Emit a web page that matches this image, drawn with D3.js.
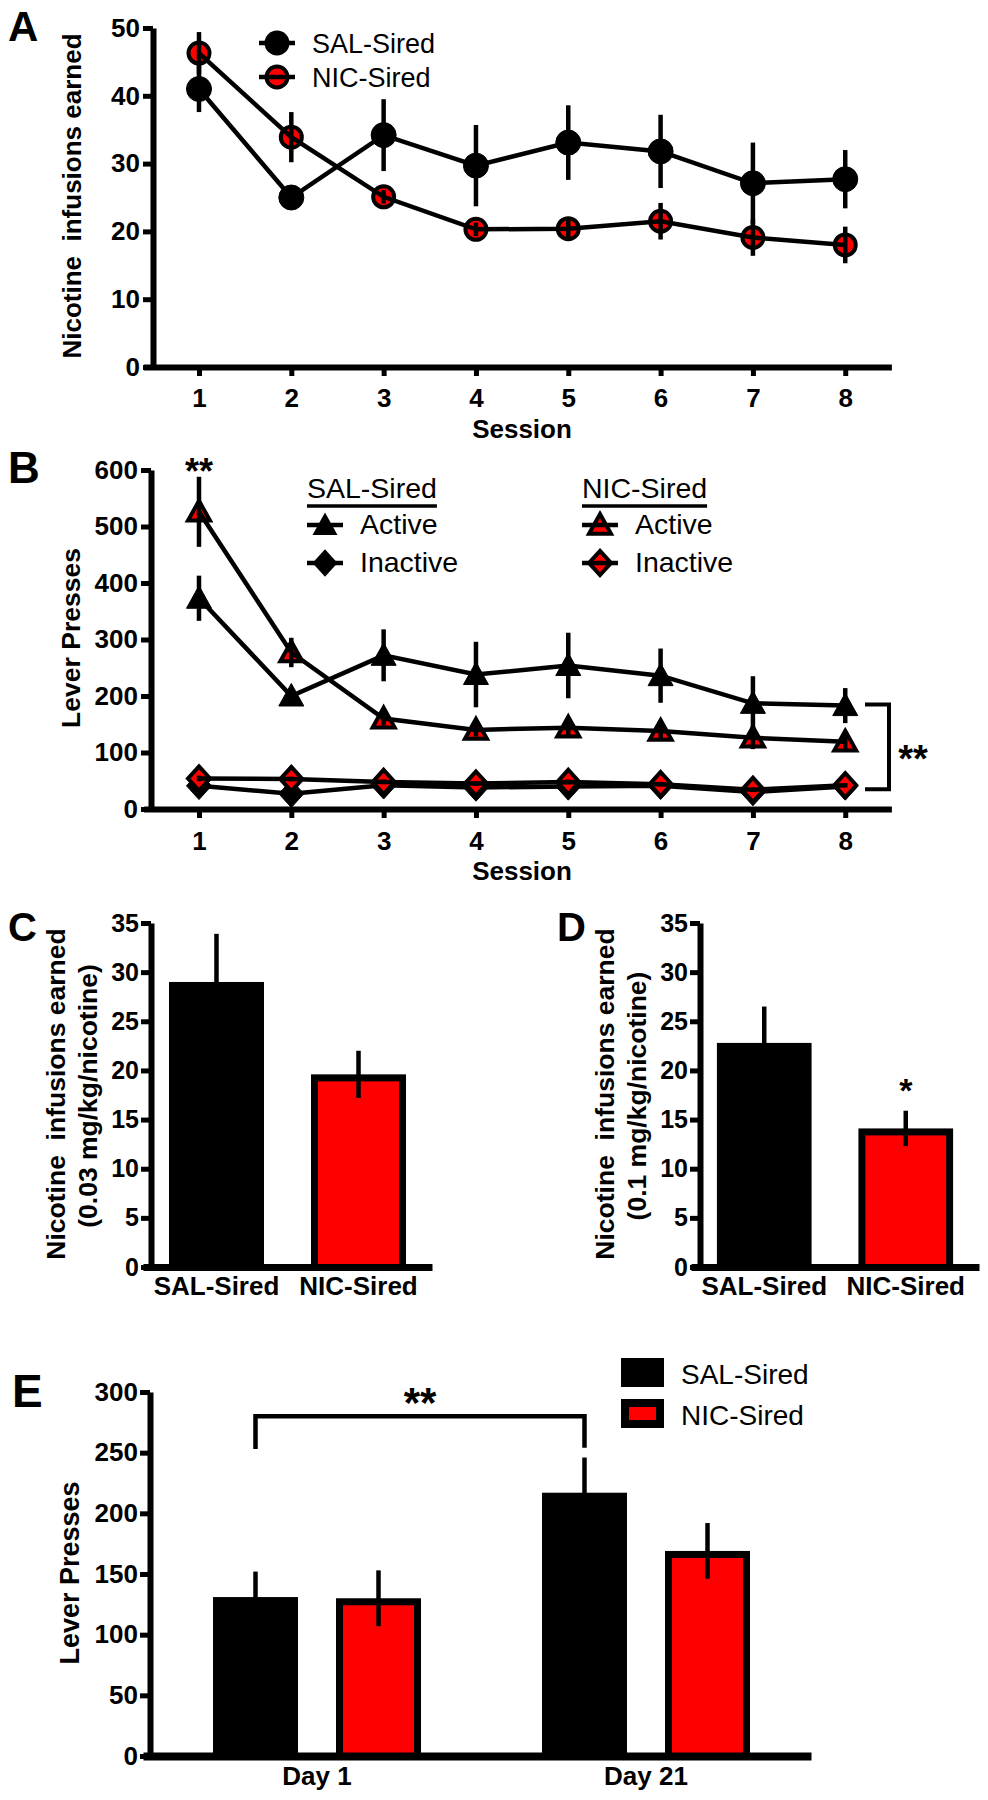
<!DOCTYPE html>
<html><head><meta charset="utf-8">
<script src="https://cdn.jsdelivr.net/npm/d3@7"></script>
<style>
body{margin:0;background:#fff;}
svg text{font-family:"Liberation Sans",Arial,sans-serif;}
</style></head><body>
<svg id="chart" width="988" height="1800"></svg>
<script>
// ---------- DATA ----------
const sessions = [1,2,3,4,5,6,7,8];
// Panel A: nicotine infusions earned
const salInfusions    = [41.0,25.0,34.2,29.7,33.1,31.8,27.1,27.7];
const salInfusionsErr = [3.4,1.2,5.3,6.0,5.5,5.4,6.0,4.3];
const nicInfusions    = [46.3,33.9,25.1,20.3,20.4,21.5,19.1,18.0];
const nicInfusionsErr = [3.1,3.7,1.0,1.0,1.5,2.7,2.7,2.7];
// Panel B: lever presses
const salActive      = [373,200,272,238,254,236,187,183];
const salActiveErr   = [40,12,46,58,58,48,48,31];
const nicActive      = [526,277,160,140,144,138,126,119];
const nicActiveErr   = [62,26,12,12,15,14,20,14];
const salInactive    = [41,27,42,38,40,41,30,40];
const salInactiveErr = [5,4,5,5,5,4,4,4];
const nicInactive    = [54,53,48,45,48,44,34,42];
const nicInactiveErr = [5,4,4,4,4,4,4,4];
// Panels C / D
const groups = ["SAL-Sired","NIC-Sired"];
const lowDose     = [29.0,19.6];
const lowDoseErr  = [4.9,2.4];
const highDose    = [22.8,14.1];
const highDoseErr = [3.7,1.8];
// Panel E
const days = ["Day 1","Day 21"];
const salDays    = [131,217];
const salDaysErr = [21,29];
const nicDays    = [130,169];
const nicDaysErr = [23,23];
// tick labels
const ticksA = [0,10,20,30,40,50];
const ticksB = [0,100,200,300,400,500,600];
const ticksCD = [0,5,10,15,20,25,30,35];
const ticksE = [0,50,100,150,200,250,300];

// ---------- HELPERS ----------
const svg = d3.select("#chart");
const FONT = '"Liberation Sans", Arial, sans-serif';
const RED = "#ff0000";

function styleAxis(g, fs){
  g.attr("font-family", FONT).attr("font-size", fs).attr("font-weight","bold");
  g.select("path.domain").attr("stroke","#000").attr("stroke-width",6).attr("fill","none");
  g.selectAll(".tick line").attr("stroke","#000").attr("stroke-width",5);
  g.selectAll(".tick text").attr("fill","#000");
}
function text(x,y,str,fs,weight,anchor){
  return svg.append("text").attr("x",x).attr("y",y).text(str)
    .attr("font-size",fs).attr("font-weight",weight||"normal")
    .attr("text-anchor",anchor||"start").attr("fill","#000")
    .style("white-space","pre");
}
function vtext(x,y,str,fs,weight){
  return svg.append("text").attr("transform",`translate(${x},${y}) rotate(-90)`)
    .text(str).attr("font-size",fs).attr("font-weight",weight||"bold")
    .attr("text-anchor","middle").attr("fill","#000").style("white-space","pre");
}
const triType = {draw(c,s){const r=Math.sqrt(s); c.moveTo(0,-r); c.lineTo(r,0.8*r); c.lineTo(-r,0.8*r); c.closePath();}};
const diaType = {draw(c,s){const r=Math.sqrt(s); c.moveTo(0,-1.1*r); c.lineTo(r,0); c.lineTo(0,1.1*r); c.lineTo(-r,0); c.closePath();}};
const circleSym = d3.symbol().type(d3.symbolCircle).size(Math.PI*12.5*12.5);
const circleSymN = d3.symbol().type(d3.symbolCircle).size(Math.PI*10.5*10.5);
const triSym = d3.symbol().type(triType).size(12.5*12.5);
const triSymN = d3.symbol().type(triType).size(11*11);
const diaSym = d3.symbol().type(diaType).size(12.5*12.5);
const diaSymN = d3.symbol().type(diaType).size(11*11);

function series(g, x, y, vals, errs, sym, nic){
  const data = sessions.map((s,i)=>({s, v:vals[i], e:errs[i]}));
  const line = d3.line().x(d=>x(d.s)).y(d=>y(d.v));
  const marks = () => g.append("g").selectAll("path").data(data).join("path")
      .attr("d", sym).attr("transform", d=>`translate(${x(d.s)},${y(d.v)})`)
      .attr("fill", nic?RED:"#000").attr("stroke","#000").attr("stroke-width", nic?4:1);
  if(nic) marks();
  g.append("path").datum(data).attr("d",line).attr("fill","none").attr("stroke","#000").attr("stroke-width",4.5);
  g.append("g").selectAll("line").data(data).join("line")
    .attr("x1",d=>x(d.s)).attr("x2",d=>x(d.s))
    .attr("y1",d=>y(d.v+d.e)).attr("y2",d=>y(d.v-d.e))
    .attr("stroke","#000").attr("stroke-width",4.5);
  if(!nic) marks();
}

// ---------- PANEL A ----------
{
  const x = d3.scaleLinear().domain([0.4,8.5]).range([143.6,891.4]);
  const y = d3.scaleLinear().domain([0,50]).range([367,28]);
  const g = svg.append("g");
  series(g,x,y,salInfusions,salInfusionsErr,circleSym,false);
  series(g,x,y,nicInfusions,nicInfusionsErr,circleSymN,true);
  const ax = svg.append("g").attr("transform","translate(0,367)")
    .call(d3.axisBottom(x).tickValues(sessions).tickFormat(d3.format("d")).tickSize(9).tickSizeOuter(0).tickPadding(13));
  styleAxis(ax,26);
  const ay = svg.append("g").attr("transform","translate(153,0)")
    .call(d3.axisLeft(y).tickValues(ticksA).tickSize(10).tickSizeOuter(0).tickPadding(3));
  styleAxis(ay,26);
  vtext(81,196,"Nicotine  infusions earned",26,"bold");
  text(522,438,"Session",26,"bold","middle");
  text(8,41,"A",42,"bold");
  // legend
  const lg = svg.append("g");
  [["SAL-Sired",false,43],["NIC-Sired",true,77]].forEach(([lab,nic,ly])=>{
    if(nic) lg.append("path").attr("d",circleSymN).attr("transform",`translate(277,${ly})`).attr("fill",RED).attr("stroke","#000").attr("stroke-width",4);
    lg.append("line").attr("x1",259).attr("x2",295).attr("y1",ly).attr("y2",ly).attr("stroke","#000").attr("stroke-width",4.5);
    if(!nic) lg.append("path").attr("d",circleSym).attr("transform",`translate(277,${ly})`).attr("fill","#000");
    lg.append("text").attr("x",312).attr("y",ly+9.5).text(lab).attr("font-size",27).attr("fill","#000");
  });
}

// ---------- PANEL B ----------
{
  const x = d3.scaleLinear().domain([0.4,8.5]).range([143.6,891.4]);
  const y = d3.scaleLinear().domain([0,600]).range([809,470]);
  const g = svg.append("g");
  series(g,x,y,salInactive,salInactiveErr,diaSym,false);
  series(g,x,y,nicInactive,nicInactiveErr,diaSymN,true);
  series(g,x,y,salActive,salActiveErr,triSym,false);
  series(g,x,y,nicActive,nicActiveErr,triSymN,true);
  const ax = svg.append("g").attr("transform","translate(0,809)")
    .call(d3.axisBottom(x).tickValues(sessions).tickFormat(d3.format("d")).tickSize(9).tickSizeOuter(0).tickPadding(14));
  styleAxis(ax,26);
  const ay = svg.append("g").attr("transform","translate(151,0)")
    .call(d3.axisLeft(y).tickValues(ticksB).tickSize(10).tickSizeOuter(0).tickPadding(3));
  styleAxis(ay,26);
  vtext(80,638,"Lever Presses",26.5,"bold");
  text(522,880,"Session",26,"bold","middle");
  text(8,483,"B",44,"bold");
  text(x(1),484,"**",36,"bold","middle");
  // bracket between active and inactive at session 8
  const bx0 = 865, bx1 = 889;
  svg.append("path").attr("d",`M${bx0},${y(185)}H${bx1}V${y(35)}H${bx0}`)
    .attr("fill","none").attr("stroke","#000").attr("stroke-width",4);
  text(913,772,"**",38,"bold","middle");
  // legend
  const lg = svg.append("g");
  [["SAL-Sired",307,false],["NIC-Sired",582,true]].forEach(([lab,lx,nic])=>{
    const t = lg.append("text").attr("x",lx).attr("y",498).text(lab).attr("font-size",28.5).attr("fill","#000");
    const w = t.node().getComputedTextLength();
    lg.append("line").attr("x1",lx).attr("x2",lx+w).attr("y1",506).attr("y2",506).attr("stroke","#000").attr("stroke-width",3.5);
    const mx = lx+18;
    [["Active",525,nic?triSymN:triSym],["Inactive",563,nic?diaSymN:diaSym]].forEach(([nm,ly,sym])=>{
      if(nic) lg.append("path").attr("d",sym).attr("transform",`translate(${mx},${ly})`).attr("fill",RED).attr("stroke","#000").attr("stroke-width",4);
      lg.append("line").attr("x1",mx-18).attr("x2",mx+18).attr("y1",ly).attr("y2",ly).attr("stroke","#000").attr("stroke-width",4.5);
      if(!nic) lg.append("path").attr("d",sym).attr("transform",`translate(${mx},${ly})`).attr("fill","#000");
      lg.append("text").attr("x",mx+35).attr("y",ly+9).text(nm).attr("font-size",28.5).attr("fill","#000");
    });
  });
}

// ---------- PANELS C & D ----------
function barPanel(vals, errs, axisX, xr, title2, titleX, letter, letterX){
  const x = d3.scaleBand().domain(groups).range(xr).paddingInner(0.331).paddingOuter(0.183);
  const y = d3.scaleLinear().domain([0,35]).range([1267,923]);
  const data = groups.map((gname,i)=>({g:gname,v:vals[i],e:errs[i],nic:i===1}));
  const g = svg.append("g");
  g.selectAll("rect.o").data(data).join("rect").attr("class","o")
    .attr("x",d=>x(d.g)).attr("width",x.bandwidth())
    .attr("y",d=>y(d.v)).attr("height",d=>y(0)-y(d.v)).attr("fill","#000");
  g.selectAll("rect.i").data(data.filter(d=>d.nic)).join("rect").attr("class","i")
    .attr("x",d=>x(d.g)+7).attr("width",x.bandwidth()-14)
    .attr("y",d=>y(d.v)+7).attr("height",d=>y(0)-y(d.v)-7).attr("fill",RED);
  g.selectAll("line").data(data).join("line")
    .attr("x1",d=>x(d.g)+x.bandwidth()/2).attr("x2",d=>x(d.g)+x.bandwidth()/2)
    .attr("y1",d=>y(d.v+d.e)).attr("y2",d=>y(d.v-d.e))
    .attr("stroke","#000").attr("stroke-width",4.5);
  const ax = svg.append("g").attr("transform",`translate(0,${y(0)})`)
    .call(d3.axisBottom(x).tickSize(0).tickSizeOuter(0).tickPadding(10));
  styleAxis(ax,26);
  ax.select("path.domain").attr("stroke-width",7);
  const ay = svg.append("g").attr("transform",`translate(${axisX},0)`)
    .call(d3.axisLeft(y).tickValues(ticksCD).tickSize(10).tickSizeOuter(0).tickPadding(2));
  styleAxis(ay,25);
  vtext(titleX,1094,"Nicotine  infusions earned",26.5,"bold");
  vtext(titleX+32,1096,title2,26.5,"bold");
  text(letterX,941,letter,40,"bold");
  return {x,y};
}
barPanel(lowDose,lowDoseErr,151,[143,432],"(0.03 mg/kg/nicotine)",65,"C",8);
const dPanel = barPanel(highDose,highDoseErr,700,[691,979],"(0.1 mg/kg/nicotine)",614,"D",557);
text(dPanel.x(groups[1])+dPanel.x.bandwidth()/2,1102,"*",34,"bold","middle");

// ---------- PANEL E ----------
{
  const x = d3.scaleBand().domain(days).range([143,811]).paddingInner(0).paddingOuter(0.0152).align(0.95);
  const sub = d3.scaleBand().domain(["SAL","NIC"]).range([-104,104]).paddingInner(0.309);
  const y = d3.scaleLinear().domain([0,300]).range([1756,1392]);
  const data = [];
  days.forEach((d,i)=>{
    data.push({day:d,k:"SAL",v:salDays[i],e:salDaysErr[i]});
    data.push({day:d,k:"NIC",v:nicDays[i],e:nicDaysErr[i]});
  });
  const cx = d => x(d.day)+x.bandwidth()/2+sub(d.k);
  const g = svg.append("g");
  g.selectAll("rect.o").data(data).join("rect").attr("class","o")
    .attr("x",cx).attr("width",sub.bandwidth())
    .attr("y",d=>y(d.v)).attr("height",d=>y(0)-y(d.v)).attr("fill","#000");
  g.selectAll("rect.i").data(data.filter(d=>d.k==="NIC")).join("rect").attr("class","i")
    .attr("x",d=>cx(d)+7).attr("width",sub.bandwidth()-14)
    .attr("y",d=>y(d.v)+7).attr("height",d=>y(0)-y(d.v)-7).attr("fill",RED);
  g.selectAll("line").data(data).join("line")
    .attr("x1",d=>cx(d)+sub.bandwidth()/2).attr("x2",d=>cx(d)+sub.bandwidth()/2)
    .attr("y1",d=>y(d.v+d.e)).attr("y2",d=>y(d.v-d.e))
    .attr("stroke","#000").attr("stroke-width",4.5);
  const ax = svg.append("g").attr("transform",`translate(0,${y(0)})`)
    .call(d3.axisBottom(x).tickSize(0).tickSizeOuter(0).tickPadding(11));
  styleAxis(ax,26);
  ax.select("path.domain").attr("stroke-width",8);
  const ay = svg.append("g").attr("transform","translate(150,0)")
    .call(d3.axisLeft(y).tickValues(ticksE).tickSize(10).tickSizeOuter(0).tickPadding(2));
  styleAxis(ay,26);
  vtext(79,1573,"Lever Presses",27,"bold");
  text(12,1407,"E",46,"bold");
  // significance bracket Day1 SAL vs Day21 SAL
  const l = cx(data[0])+sub.bandwidth()/2, r = cx(data[2])+sub.bandwidth()/2;
  svg.append("path").attr("d",`M${l},${y(253)}V${y(280)}H${r}V${y(254)}`)
    .attr("fill","none").attr("stroke","#000").attr("stroke-width",4.5);
  text((l+r)/2,1417,"**",42,"bold","middle");
  // legend
  const lg = svg.append("g");
  lg.append("rect").attr("x",621).attr("y",1358).attr("width",43).attr("height",29).attr("fill","#000");
  lg.append("rect").attr("x",621).attr("y",1399).attr("width",43).attr("height",29).attr("fill","#000");
  lg.append("rect").attr("x",629).attr("y",1407).attr("width",27).attr("height",13).attr("fill",RED);
  lg.append("text").attr("x",681).attr("y",1384).text("SAL-Sired").attr("font-size",28).attr("fill","#000");
  lg.append("text").attr("x",681).attr("y",1425).text("NIC-Sired").attr("font-size",28).attr("fill","#000");
}
</script>
</body></html>
